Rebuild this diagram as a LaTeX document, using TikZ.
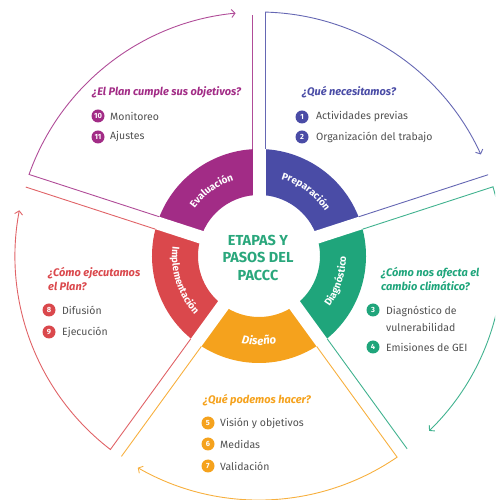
\documentclass[tikz,border=0pt]{standalone}
\usepackage{fontspec}
\setmainfont{Fira Sans}
\usetikzlibrary{calc,arrows.meta,decorations.text}
\definecolor{cEva}{HTML}{A22C86}
\definecolor{cPre}{HTML}{4A4CA6}
\definecolor{cDia}{HTML}{1FA57B}
\definecolor{cDis}{HTML}{F5A21D}
\definecolor{cImp}{HTML}{DA484C}
\definecolor{cTxt}{HTML}{505050}
\definecolor{cCen}{HTML}{2AA77C}
\newcommand\bandfont{\fontsize{10}{11}\selectfont\bfseries\color{white}}
\newcommand\bandbig{\fontsize{11.5}{12}\selectfont\bfseries\itshape\color{white}}
\tikzset{
 outl/.style={line width=0.9pt, line join=miter},
 arr/.style={-{Straight Barb[length=3.5pt,width=8pt]}},
 num/.style={circle, fill=#1, text=white, inner sep=0pt, minimum size=13pt, font=\fontsize{7.5}{7.5}\selectfont\bfseries},
 item/.style={anchor=west, text=cTxt, font=\fontsize{10.5}{17}\selectfont, inner sep=0pt, align=left},
 quest/.style={anchor=west, text=#1, font=\fontsize{11}{14}\selectfont\bfseries\itshape, inner sep=0pt, align=left},
 bandlabel/.style={decorate, decoration={text along path, text align=center, text={#1}}},
}
\begin{document}
\begin{tikzpicture}[x=1pt,y=1pt]
\useasboundingbox (0,0) rectangle (495,500);
\clip (0,0) rectangle (495,500);
\begin{scope}[shift={(259,244)}]
 % band segments
 \foreach \a/\b/\col in {18/90/cPre, 90/162/cEva, 162/234/cImp, 234/306/cDis, 306/378/cDia}
   \fill[\col] (\a:107) arc[start angle=\a, end angle=\b, radius=107] -- (\b:61) arc[start angle=\b, end angle=\a, radius=61] -- cycle;
 % gaps
 \foreach \a in {18,90,162,234,306}
   \draw[white, line width=13pt] (\a:40) -- (\a:116);
 % outer sector outlines
 \draw[outl,arr,cEva!85] ($(162:107)+(72:6.5)$) -- ($(162:243.9)+(72:6.5)$) arc[start angle=160.47, end angle=95.5, radius=244];
 \draw[outl,cEva!85] ($(90:107)+(180:6.5)$) -- ($(90:241)+(180:6.5)$);
 \draw[outl,arr,cPre!85] ($(90:107)+(0:6.5)$) -- ($(90:243.9)+(0:6.5)$) arc[start angle=88.47, end angle=24.6, radius=244];
 \draw[outl,cPre!85] ($(18:107)+(108:6.5)$) -- ($(18:243)+(108:6.5)$);
 \draw[outl,arr,cDia!85] ($(18:107)+(-72:6.5)$) -- ($(18:243.9)+(-72:6.5)$) arc[start angle=16.47, end angle=-45.8, radius=244];
 \draw[outl,cDia!85] ($(-54:107)+(36:6.5)$) -- ($(-54:243)+(36:6.5)$);
 \draw[outl,arr,cDis!85] ($(-54:107)+(-144:6.5)$) -- ($(-54:243.9)+(-144:6.5)$) arc[start angle=-55.53, end angle=-119.8, radius=244];
 \draw[outl,cDis!85] ($(-126:107)+(-36:6.5)$) -- ($(-126:243)+(-36:6.5)$);
 \draw[outl,arr,cImp!85] ($(234:107)+(144:6.5)$) -- ($(234:243.9)+(144:6.5)$) arc[start angle=232.47, end angle=169.2, radius=244];
 \draw[outl,cImp!85] ($(162:107)+(252:6.5)$) -- ($(162:243)+(252:6.5)$);
 % band labels
 \path[bandlabel={|\bandfont|Evaluación}] (162:80) arc[start angle=162, end angle=90, radius=80];
 \path[bandlabel={|\bandfont|Preparación}] (90:80) arc[start angle=90, end angle=18, radius=80];
 \path[bandlabel={|\bandfont|Diagnóstico}] (-54:87) arc[start angle=-54, end angle=18, radius=87];
 \path[bandlabel={|\bandfont|Implementación}] (162:87) arc[start angle=162, end angle=234, radius=87];
 \path[bandlabel={|\bandbig|Diseño}] (234:89) arc[start angle=234, end angle=306, radius=89];
\end{scope}
% centre
\node[align=center, text=cCen, font=\fontsize{14.5}{17.5}\selectfont\bfseries] (center) at (258,242.5) {ETAPAS Y\\PASOS DEL\\PACCC};
% Evaluacion
\node[quest=cEva] (qEva) at (92,408) {¿El Plan cumple sus objetivos?};
\node[num=cEva] (n10) at (98,384) {10};
\node[item] (t10) at (110,384) {Monitoreo};
\node[num=cEva] (n11) at (98,363) {11};
\node[item] (t11) at (110,363) {Ajustes};
% Preparacion
\node[quest=cPre] (qPre) at (302,408) {¿Qué necesitamos?};
\node[num=cPre] (n1) at (302,383) {1};
\node[item] (t1) at (316,383) {Actividades previas};
\node[num=cPre] (n2) at (302,363) {2};
\node[item] (t2) at (316,363) {Organización del trabajo};
% Diagnostico
\node[quest=cDia] (qDia) at (381,221) {¿Cómo nos afecta el\\cambio climático?};
\node[num=cDia] (n3) at (373,190) {3};
\node[item] (t3) at (386,181.5) {Diagnóstico de\\vulnerabilidad};
\node[num=cDia] (n4) at (373,153) {4};
\node[item] (t4) at (386,153) {Emisiones de GEI};
% Implementacion
\node[quest=cImp] (qImp) at (48,221) {¿Cómo ejecutamos\\el Plan?};
\node[num=cImp] (n8) at (49,190) {8};
\node[item] (t8) at (62,190) {Difusión};
\node[num=cImp] (n9) at (49,168) {9};
\node[item] (t9) at (62,168) {Ejecución};
% Diseno
\node[quest=cDis] (qDis) at (203,100) {¿Qué podemos hacer?};
\node[num=cDis] (n5) at (208,77) {5};
\node[item] (t5) at (220,77) {Visión y objetivos};
\node[num=cDis] (n6) at (208,56) {6};
\node[item] (t6) at (220,56) {Medidas};
\node[num=cDis] (n7) at (208,34) {7};
\node[item] (t7) at (220,34) {Validación};
\end{tikzpicture}
\end{document}
